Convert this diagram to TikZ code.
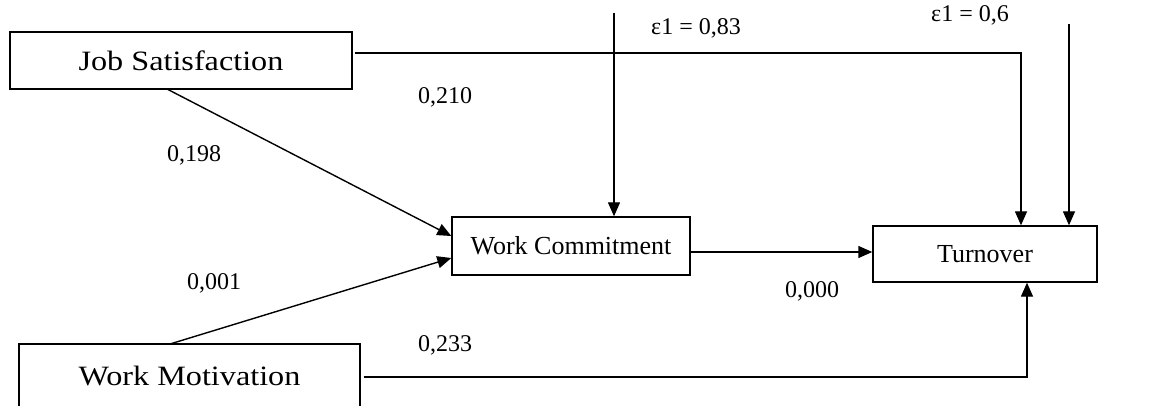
\documentclass[tikz,border=0pt]{standalone}
\usepackage{fontspec}
\setmainfont{Liberation Serif}
\newfontfamily\widefont[FakeStretch=1.15]{Liberation Serif}
\usetikzlibrary{arrows.meta,calc}
\begin{document}
\begin{tikzpicture}[x=1pt,y=-1pt,
  box/.style={draw,line width=1.4pt,inner sep=0pt,font=\fontsize{26}{28}\selectfont},
  widebox/.style={box,font=\widefont\fontsize{28}{30}\selectfont},
  lbl/.style={font=\fontsize{24}{26}\selectfont,inner sep=0pt},
  conn/.style={line width=1.4pt},
  arr/.style={conn,-{Triangle[length=14pt,width=12pt]}}]
\clip (0,0) rectangle (1170,406);
\fill[white] (0,0) rectangle (1170,406);
% boxes
\node[widebox,minimum width=342pt,minimum height=57pt] (js) at (181,60.5) {Job Satisfaction};
\node[widebox,minimum width=341pt,minimum height=70pt] (wm) at (189.5,379) {\raisebox{7pt}{Work Motivation}};
\node[box,minimum width=238pt,minimum height=58pt] (wc) at (571,246) {Work Commitment};
\node[box,minimum width=224pt,minimum height=56pt] (to) at (985,254) {Turnover};
% coordinates
\coordinate (e1top) at (614,13);
\coordinate (e2top) at (1069,24);
\coordinate (jsr) at (355,53);
\coordinate (jt) at (1021,53);
\coordinate (wcy) at (0,252);
\coordinate (wmy) at (0,377);
\coordinate (tb) at (1027,0);
\coordinate (jsb) at (167,89);
\coordinate (wmt) at (170,344);
% connectors
\draw[arr] (e1top) -- (e1top |- wc.north);
\draw[arr] (jsr) -- (jt) -- (jt |- to.north);
\draw[arr] (e2top) -- (e2top |- to.north);
\draw[arr] (wc.east |- wcy) -- (to.west |- wcy);
\draw[arr] ($(wm.east |- wmy)+(3,0)$) -- (tb |- wmy) -- (tb |- to.south);
\draw[arr] (jsb) -- ($(wc.west)+(0,-10)$);
\draw[arr] (wmt) -- ($(wc.west)+(0,12)$);
% labels
\node[lbl] (l1) at (696,28) {ε1 = 0,83};
\node[lbl] (l2) at (970,15) {ε1 = 0,6};
\node[lbl] (l3) at (445,97) {0,210};
\node[lbl] (l4) at (194,155) {0,198};
\node[lbl] (l5) at (214,283) {0,001};
\node[lbl] (l6) at (445,345) {0,233};
\node[lbl] (l7) at (812,291) {0,000};
\end{tikzpicture}
\end{document}
